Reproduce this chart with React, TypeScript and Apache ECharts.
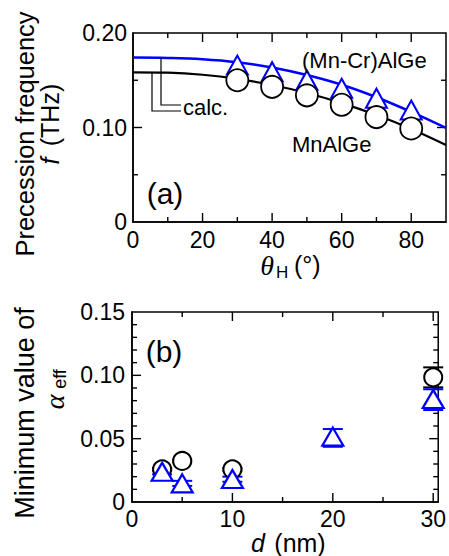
import React, { useEffect, useRef } from "react";
import * as echarts from "echarts";

// ---- Panel (a) data ----
const thetaCalc = [0, 10, 20, 30, 40, 50, 60, 70, 80, 90];
const fCalcMnCr = [0.174, 0.1736, 0.1722, 0.169, 0.1635, 0.1555, 0.1452, 0.132, 0.1165, 0.0995];
const fCalcMn = [0.1584, 0.158, 0.1558, 0.1515, 0.145, 0.1365, 0.1258, 0.1132, 0.0985, 0.0815];
const thetaMeas = [30, 40, 50, 60, 70, 80];
const fMeasMnCr = [0.166, 0.159, 0.15, 0.1415, 0.131, 0.1185];
const fMeasMn = [0.15, 0.143, 0.134, 0.124, 0.111, 0.099];

// ---- Panel (b) data ----
const dMn = [3, 5, 10, 30];
const alphaMn = [0.0258, 0.0324, 0.0258, 0.0984];
const alphaMnLo = [0.0248, 0.0314, 0.0248, 0.0905];
const alphaMnHi = [0.0268, 0.0334, 0.0268, 0.1063];
const dMnCr = [3, 5, 10, 20, 30];
const alphaMnCr = [0.0239, 0.0147, 0.0182, 0.0516, 0.0813];
const alphaMnCrLo = [0.0218, 0.0127, 0.016, 0.0436, 0.0726];
const alphaMnCrHi = [0.026, 0.0167, 0.02, 0.0576, 0.089];

// ---- Tick values ----
const topXMajor = [20, 40, 60, 80];
const topXMinor = [10, 30, 50, 70];
const topYMajor = [0.1];
const topYMinor = [0.05, 0.15];
const botXMajor = [10, 20, 30];
const botXMinor = [5, 15, 25];
const botYMajor = [0.05, 0.1];
const botYMinor = [0.01, 0.02, 0.03, 0.04, 0.06, 0.07, 0.08, 0.09, 0.11, 0.12, 0.13, 0.14];

const FONT = "'Liberation Sans', Arial, sans-serif";
const SERIF = "'Liberation Serif', 'DejaVu Serif', serif";
const BLUE = "#0000ff";

function fmt(v: number, step: number) {
  if (v === 0) return "0";
  const r = Math.round(v / step);
  if (Math.abs(r * step - v) > 1e-9) return "";
  return v.toFixed(2);
}

function axisBase(extra: any) {
  return {
    axisLine: { show: true, onZero: false, lineStyle: { color: "#000", width: 1.5 } },
    axisTick: { show: false },
    minorTick: { show: false },
    splitLine: { show: false },
    minorSplitLine: { show: false },
    ...extra,
  };
}

// kind: 0 x-major, 1 x-minor, 2 y-major, 3 y-minor
function tickSeries(gi: number, xMin: number, yMin: number, xMaj: number[], xMin_: number[], yMaj: number[], yMin_: number[]) {
  const data: number[][] = [];
  xMaj.forEach((v) => data.push([v, yMin, 0]));
  xMin_.forEach((v) => data.push([v, yMin, 1]));
  yMaj.forEach((v) => data.push([xMin, v, 2]));
  yMin_.forEach((v) => data.push([xMin, v, 3]));
  return {
    type: "custom",
    xAxisIndex: gi,
    yAxisIndex: gi,
    z: 1,
    silent: true,
    data,
    encode: { x: 0, y: 1 },
    renderItem: (params: any, api: any) => {
      const cs = params.coordSys;
      const kind = api.value(2);
      const p = api.coord([api.value(0), api.value(1)]);
      const len = kind === 0 || kind === 2 ? 9 : 5;
      const st = { stroke: "#000", lineWidth: 1.4 };
      if (kind <= 1) {
        const x = p[0];
        const yb = cs.y + cs.height;
        return {
          type: "group",
          children: [
            { type: "line", shape: { x1: x, y1: yb, x2: x, y2: yb - len }, style: st },
            { type: "line", shape: { x1: x, y1: cs.y, x2: x, y2: cs.y + len }, style: st },
          ],
        };
      }
      const y = p[1];
      const xr = cs.x + cs.width;
      return {
        type: "group",
        children: [
          { type: "line", shape: { x1: cs.x, y1: y, x2: cs.x + len, y2: y }, style: st },
          { type: "line", shape: { x1: xr, y1: y, x2: xr - len, y2: y }, style: st },
        ],
      };
    },
  };
}

function errBar(color: string, xIdx: number, yIdx: number, d: number[], lo: number[], hi: number[]) {
  return {
    type: "custom",
    xAxisIndex: xIdx,
    yAxisIndex: yIdx,
    z: 1,
    data: d.map((x, i) => [x, lo[i], hi[i]]),
    encode: { x: 0, y: [1, 2] },
    renderItem: (params: any, api: any) => {
      const x = api.value(0);
      const pLo = api.coord([x, api.value(1)]);
      const pHi = api.coord([x, api.value(2)]);
      const hw = 10;
      const st = { stroke: color, lineWidth: 2 };
      return {
        type: "group",
        children: [
          { type: "line", shape: { x1: pLo[0], y1: pLo[1], x2: pHi[0], y2: pHi[1] }, style: st },
          { type: "line", shape: { x1: pLo[0] - hw, y1: pLo[1], x2: pLo[0] + hw, y2: pLo[1] }, style: st },
          { type: "line", shape: { x1: pHi[0] - hw, y1: pHi[1], x2: pHi[0] + hw, y2: pHi[1] }, style: st },
        ],
      };
    },
  };
}

function txt(text: string, x: number, y: number, size: number, opts: any = {}) {
  const { rotation, align, family, italic, fill } = opts;
  return {
    type: "text",
    x,
    y,
    rotation: rotation || 0,
    z: 100,
    style: {
      text,
      fill: fill || "#000",
      fontSize: size,
      fontFamily: family || FONT,
      fontStyle: italic ? "italic" : "normal",
      align: align || "center",
      verticalAlign: "middle",
      textAlign: align || "center",
      textVerticalAlign: "middle",
    },
  };
}

export default function App() {
  const ref = useRef<HTMLDivElement>(null);
  useEffect(() => {
    if (!ref.current) return;
    const chart = echarts.init(ref.current, undefined, { renderer: "svg" });
    const labelStyle = { show: true, color: "#000", fontSize: 23, fontFamily: FONT };
    const gridStyle = { show: true, borderColor: "#000", borderWidth: 1.5, backgroundColor: "transparent" };
    const option: any = {
      animation: false,
      backgroundColor: "#fff",
      grid: [
        { left: 133, top: 33, width: 314, height: 189, ...gridStyle },
        { left: 132, top: 312, width: 315, height: 190, ...gridStyle },
      ],
      xAxis: [
        axisBase({
          type: "value", gridIndex: 0, position: "bottom", min: 0, max: 90, interval: 20,
          axisLabel: { ...labelStyle, margin: 6, formatter: (v: number) => (v % 20 === 0 ? String(v) : "") },
        }),
        axisBase({
          type: "value", gridIndex: 1, position: "bottom", min: 0, max: 30.5, interval: 10,
          axisLabel: { ...labelStyle, margin: 5, formatter: (v: number) => (v % 10 === 0 ? String(v) : "") },
        }),
      ],
      yAxis: [
        axisBase({
          type: "value", gridIndex: 0, position: "left", min: 0, max: 0.2, interval: 0.1,
          axisLabel: { ...labelStyle, margin: 6, formatter: (v: number) => fmt(v, 0.1) },
        }),
        axisBase({
          type: "value", gridIndex: 1, position: "left", min: 0, max: 0.15, interval: 0.05,
          axisLabel: { ...labelStyle, margin: 7, formatter: (v: number) => fmt(v, 0.05) },
        }),
      ],
      series: [
        tickSeries(0, 0, 0, topXMajor, topXMinor, topYMajor, topYMinor),
        tickSeries(1, 0, 0, botXMajor, botXMinor, botYMajor, botYMinor),
        {
          type: "line", name: "calc (Mn-Cr)AlGe", xAxisIndex: 0, yAxisIndex: 0,
          data: thetaCalc.map((t, i) => [t, fCalcMnCr[i]]),
          smooth: 0.4, showSymbol: false, z: 2,
          lineStyle: { color: BLUE, width: 2.5 },
        },
        {
          type: "line", name: "calc MnAlGe", xAxisIndex: 0, yAxisIndex: 0,
          data: thetaCalc.map((t, i) => [t, fCalcMn[i]]),
          smooth: 0.4, showSymbol: false, z: 2,
          lineStyle: { color: "#000", width: 2.2 },
        },
        {
          type: "scatter", name: "(Mn-Cr)AlGe", xAxisIndex: 0, yAxisIndex: 0,
          data: thetaMeas.map((t, i) => [t, fMeasMnCr[i]]),
          symbol: "triangle", symbolSize: [21, 19], z: 3,
          itemStyle: { color: "#fff", borderColor: BLUE, borderWidth: 2, opacity: 1 },
        },
        {
          type: "scatter", name: "MnAlGe", xAxisIndex: 0, yAxisIndex: 0,
          data: thetaMeas.map((t, i) => [t, fMeasMn[i]]),
          symbol: "circle", symbolSize: 22, z: 4,
          itemStyle: { color: "#fff", borderColor: "#000", borderWidth: 1.8, opacity: 1 },
        },
        errBar("#000", 1, 1, dMn, alphaMnLo, alphaMnHi),
        errBar(BLUE, 1, 1, dMnCr, alphaMnCrLo, alphaMnCrHi),
        {
          type: "scatter", name: "MnAlGe b", xAxisIndex: 1, yAxisIndex: 1,
          data: dMn.map((d, i) => [d, alphaMn[i]]),
          symbol: "circle", symbolSize: 18, z: 3,
          itemStyle: { color: "#fff", borderColor: "#000", borderWidth: 2, opacity: 1 },
        },
        {
          type: "scatter", name: "(Mn-Cr)AlGe b", xAxisIndex: 1, yAxisIndex: 1,
          data: dMnCr.map((d, i) => [d, alphaMnCr[i]]),
          symbol: "triangle", symbolSize: [21, 18], z: 4,
          itemStyle: { color: "#fff", borderColor: BLUE, borderWidth: 2.2, opacity: 1 },
        },
      ],
      graphic: [
        txt("(Mn-Cr)AlGe", 302, 60, 22, { align: "left" }),
        txt("MnAlGe", 292, 144, 22, { align: "left" }),
        txt("calc.", 183, 107, 22, { align: "left" }),
        txt("(a)", 165, 193, 30),
        {
          type: "polyline", z: 50,
          shape: { points: [[152, 73], [152, 111], [181, 111]] },
          style: { stroke: "#000", lineWidth: 1.2, fill: null },
        },
        {
          type: "polyline", z: 50,
          shape: { points: [[161, 58], [161, 105], [181, 105]] },
          style: { stroke: "#000", lineWidth: 1.2, fill: null },
        },
        txt("(b)", 164, 351, 30),
        txt("Precession frequency", 25, 134, 25.5, { rotation: Math.PI / 2 }),
        txt("f", 50, 161, 25, { rotation: Math.PI / 2, italic: true }),
        txt("(THz)", 50, 115, 25, { rotation: Math.PI / 2 }),
        txt("θ", 267, 265, 28, { italic: true, family: SERIF }),
        txt("H", 276, 272, 17, { align: "left" }),
        txt("(°)", 294, 265, 25, { align: "left" }),
        txt("Minimum value of", 25, 413, 27, { rotation: Math.PI / 2 }),
        txt("α", 54, 402, 28, { rotation: Math.PI / 2, italic: true, family: SERIF }),
        txt("eff", 60, 379, 18, { rotation: Math.PI / 2 }),
        txt("d", 258, 543, 25, { italic: true }),
        txt("(nm)", 300, 543, 25),
      ],
    };
    chart.setOption(option);
    return () => chart.dispose();
  }, []);
  return (
    <div
      ref={ref}
      style={{ position: "absolute", left: 0, top: 0, width: 449, height: 556, background: "#fff" }}
    />
  );
}
